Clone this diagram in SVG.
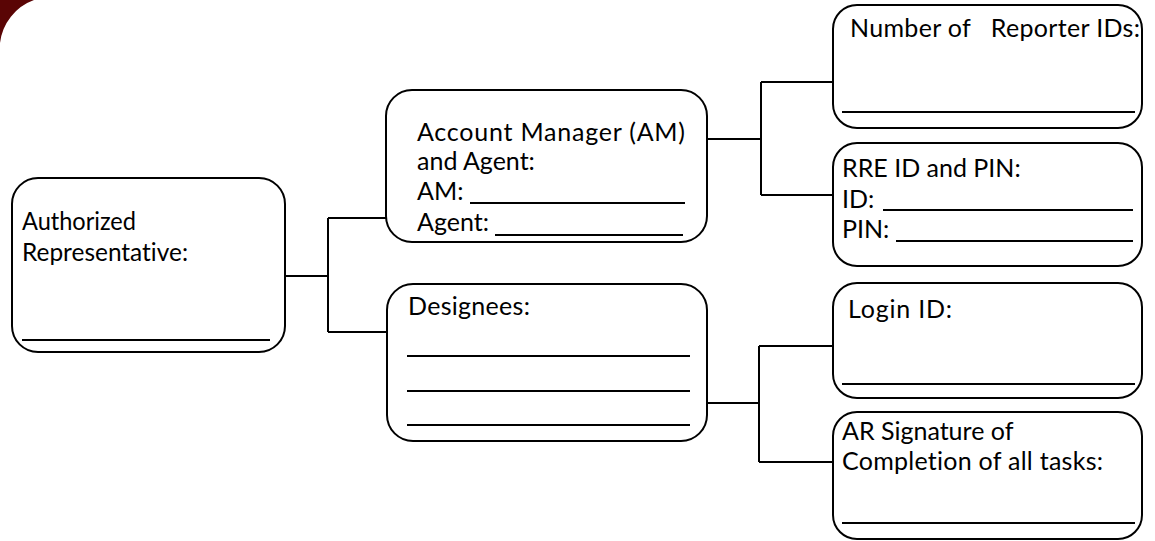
<svg xmlns="http://www.w3.org/2000/svg" width="1155" height="541" viewBox="0 0 1155 541">
  <style>
    .box { fill: #ffffff; stroke: #000000; stroke-width: 2; }
    .lbl { font-family: Lato, "Open Sans", "Liberation Sans", sans-serif; font-size: 25px; fill: #000000; font-variant-ligatures: none; }
    .rule { stroke: #000000; stroke-width: 2; }
    .wire { fill: none; stroke: #000000; stroke-width: 2; }
  </style>

  <!-- dark red page corner -->
  <path d="M0,0 H34 A 52 52 0 0 0 0,43 Z" fill="#5a0505"/>

  <!-- connectors -->
  <g id="connectors">
    <path class="wire" d="M285,276 H328 M328,218 V332 M328,218 H386 M328,332 H386"/>
    <path class="wire" d="M707,139 H761 M761,82 V195 M761,82 H833 M761,195 H833"/>
    <path class="wire" d="M707,403 H759 M759,346 V462 M759,346 H833 M759,462 H833"/>
  </g>

  <g id="authorized-representative">
    <rect class="box" x="12" y="178" width="273" height="174" rx="26"/>
    <text class="lbl" x="22" y="230" textLength="114" lengthAdjust="spacingAndGlyphs">Authorized</text>
    <text class="lbl" x="22" y="261" textLength="166" lengthAdjust="spacingAndGlyphs">Representative:</text>
    <line class="rule" x1="22" y1="340" x2="270" y2="340"/>
  </g>

  <g id="account-manager">
    <rect class="box" x="386" y="90" width="321" height="152" rx="26"/>
    <text class="lbl" x="417" y="141" textLength="268">Account Manager (AM)</text>
    <text class="lbl" x="417" y="170">and Agent:</text>
    <text class="lbl" x="417" y="200">AM:</text>
    <line class="rule" x1="470" y1="203" x2="685" y2="203"/>
    <text class="lbl" x="417" y="231">Agent:</text>
    <line class="rule" x1="495" y1="235" x2="683" y2="235"/>
  </g>

  <g id="designees">
    <rect class="box" x="387" y="284" width="320" height="157" rx="26"/>
    <text class="lbl" x="408" y="315" textLength="122">Designees:</text>
    <line class="rule" x1="407" y1="356" x2="690" y2="356"/>
    <line class="rule" x1="407" y1="391" x2="690" y2="391"/>
    <line class="rule" x1="407" y1="425" x2="690" y2="425"/>
  </g>

  <g id="reporter-ids">
    <rect class="box" x="833" y="5" width="309" height="123" rx="24"/>
    <text class="lbl" x="850" y="37" textLength="290" xml:space="preserve">Number of   Reporter IDs:</text>
    <line class="rule" x1="842" y1="112" x2="1135" y2="112"/>
  </g>

  <g id="rre-id-pin">
    <rect class="box" x="833" y="143" width="309" height="123" rx="24"/>
    <text class="lbl" x="842" y="177">RRE ID and PIN:</text>
    <text class="lbl" x="842" y="208">ID:</text>
    <line class="rule" x1="883" y1="210" x2="1133" y2="210"/>
    <text class="lbl" x="842" y="238">PIN:</text>
    <line class="rule" x1="896" y1="241" x2="1133" y2="241"/>
  </g>

  <g id="login-id">
    <rect class="box" x="833" y="283" width="309" height="115" rx="24"/>
    <text class="lbl" x="848" y="318" textLength="104">Login ID:</text>
    <line class="rule" x1="842" y1="384" x2="1135" y2="384"/>
  </g>

  <g id="ar-signature">
    <rect class="box" x="833" y="412" width="309" height="127" rx="24"/>
    <text class="lbl" x="842" y="440">AR Signature of</text>
    <text class="lbl" x="842" y="470" textLength="261">Completion of all tasks:</text>
    <line class="rule" x1="842" y1="523" x2="1135" y2="523"/>
  </g>
</svg>
